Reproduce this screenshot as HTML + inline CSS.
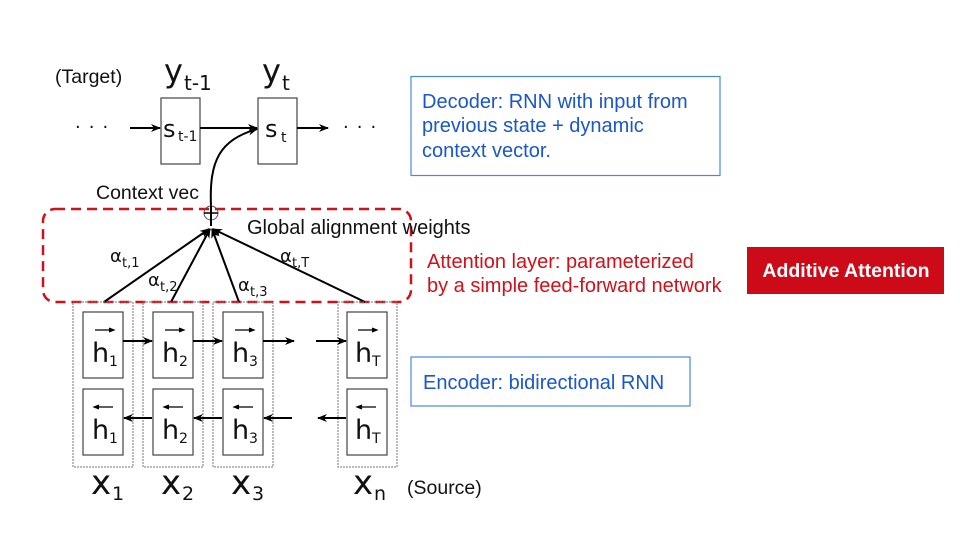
<!DOCTYPE html>
<html><head><meta charset="utf-8"><style>
body{margin:0;background:#fff;}
svg{display:block;font-family:"DejaVu Sans","Liberation Sans",sans-serif;}
.t{font-family:"Liberation Sans",sans-serif;}
</style></head><body>
<svg width="960" height="540" viewBox="0 0 960 540" xmlns="http://www.w3.org/2000/svg">
<defs>
<marker id="a" markerWidth="10" markerHeight="8" refX="9" refY="4" orient="auto" markerUnits="userSpaceOnUse"><path d="M0,0 L10,4 L0,8 L3,4Z" fill="#000"/></marker>
</defs>
<!-- Target -->
<text x="55" y="83" class="t" font-size="19.5" fill="#111">(Target)</text>
<text x="164" y="82" font-size="32" fill="#111">y</text><text x="184" y="90" font-size="20" fill="#111">t-1</text>
<text x="262" y="82" font-size="32" fill="#111">y</text><text x="282" y="90" font-size="20" fill="#111">t</text>
<text x="75" y="133" font-size="18" fill="#111" letter-spacing="8">···</text>
<text x="343" y="133" font-size="18" fill="#111" letter-spacing="8">···</text>
<rect x="161" y="98" width="39" height="66" fill="#fff" stroke="#444" stroke-width="1.2"/>
<rect x="258" y="98" width="39" height="66" fill="#fff" stroke="#444" stroke-width="1.2"/>
<text x="163" y="137" font-size="24" fill="#111">s</text><text x="178" y="141" font-size="14" fill="#111">t-1</text>
<text x="265" y="137" font-size="24" fill="#111">s</text><text x="281" y="142" font-size="14" fill="#111">t</text>
<g stroke="#000" stroke-width="2" fill="none">
<line x1="130" y1="128" x2="160" y2="128" marker-end="url(#a)"/>
<line x1="200" y1="128" x2="257" y2="128" marker-end="url(#a)"/>
<line x1="297" y1="128" x2="328" y2="128" marker-end="url(#a)"/>
<path d="M211,206 C209,160 220,140 257,129" marker-end="url(#a)"/>
</g>
<text x="96" y="199" class="t" font-size="19.5" fill="#111">Context vec</text>
<!-- dashed rect -->
<rect x="43" y="209" width="368" height="93" rx="12" fill="none" stroke="#d0101a" stroke-width="2.5" stroke-dasharray="10,6"/>
<circle cx="211" cy="213" r="7" fill="none" stroke="#555" stroke-width="1"/>
<line x1="204" y1="213" x2="218" y2="213" stroke="#000" stroke-width="1.5"/>
<line x1="211" y1="206" x2="211" y2="226" stroke="#000" stroke-width="2"/>
<text x="247" y="234" class="t" font-size="20" fill="#111">Global alignment weights</text>
<g stroke="#000" stroke-width="2">
<line x1="104" y1="302" x2="209" y2="229" marker-end="url(#a)"/>
<line x1="171" y1="302" x2="210" y2="229" marker-end="url(#a)"/>
<line x1="239" y1="302" x2="212" y2="229" marker-end="url(#a)"/>
<line x1="365" y1="302" x2="213" y2="229" marker-end="url(#a)"/>
</g>
<g font-size="18" fill="#111">
<text x="110" y="262">α</text><text x="122" y="267" font-size="13">t,1</text>
<text x="148" y="286">α</text><text x="160" y="291" font-size="13">t,2</text>
<text x="238" y="291">α</text><text x="250" y="296" font-size="13">t,3</text>
<text x="280" y="262">α</text><text x="292" y="267" font-size="13">t,T</text>
</g>
<!-- encoder columns -->
<g fill="none" stroke="#777" stroke-width="1" stroke-dasharray="2,1">
<rect x="73" y="302" width="60" height="165"/>
<rect x="143" y="302" width="60" height="165"/>
<rect x="213" y="302" width="60" height="165"/>
<rect x="338" y="302" width="59" height="165"/>
</g>
<g fill="#fff" stroke="#444" stroke-width="1.2">
<rect x="83" y="312" width="40" height="66"/><rect x="83" y="389" width="40" height="66"/>
<rect x="153" y="312" width="40" height="66"/><rect x="153" y="389" width="40" height="66"/>
<rect x="223" y="312" width="40" height="66"/><rect x="223" y="389" width="40" height="66"/>
<rect x="347" y="312" width="40" height="66"/><rect x="347" y="389" width="40" height="66"/>
</g>
<g font-size="27" fill="#111">
<text x="92" y="362">h</text><text x="109" y="366" font-size="14">1</text>
<text x="162" y="362">h</text><text x="179" y="366" font-size="14">2</text>
<text x="232" y="362">h</text><text x="249" y="366" font-size="14">3</text>
<text x="355" y="362">h</text><text x="372" y="366" font-size="14">T</text>
<text x="92" y="439">h</text><text x="109" y="443" font-size="14">1</text>
<text x="162" y="439">h</text><text x="179" y="443" font-size="14">2</text>
<text x="232" y="439">h</text><text x="249" y="443" font-size="14">3</text>
<text x="355" y="439">h</text><text x="372" y="443" font-size="14">T</text>
</g>
<g stroke="#000" stroke-width="1.2">
<path d="M95,330 H113 M109,328 L114,330 L109,332"/>
<path d="M165,330 H183 M179,328 L184,330 L179,332"/>
<path d="M235,330 H253 M249,328 L254,330 L249,332"/>
<path d="M358,330 H376 M372,328 L377,330 L372,332"/>
<path d="M95,407 H113 M99,405 L94,407 L99,409"/>
<path d="M165,407 H183 M169,405 L164,407 L169,409"/>
<path d="M235,407 H253 M239,405 L234,407 L239,409"/>
<path d="M358,407 H376 M362,405 L357,407 L362,409"/>
</g>
<g stroke="#000" stroke-width="2">
<line x1="123" y1="341" x2="152" y2="341" marker-end="url(#a)"/>
<line x1="193" y1="341" x2="222" y2="341" marker-end="url(#a)"/>
<line x1="263" y1="341" x2="294" y2="341" marker-end="url(#a)"/>
<line x1="316" y1="341" x2="346" y2="341" marker-end="url(#a)"/>
<line x1="152" y1="418" x2="124" y2="418" marker-end="url(#a)"/>
<line x1="222" y1="418" x2="194" y2="418" marker-end="url(#a)"/>
<line x1="292" y1="418" x2="264" y2="418" marker-end="url(#a)"/>
<line x1="346" y1="418" x2="318" y2="418" marker-end="url(#a)"/>
</g>
<g font-size="34" fill="#111">
<text x="91" y="494">x</text><text x="112" y="500" font-size="19">1</text>
<text x="161" y="494">x</text><text x="182" y="500" font-size="19">2</text>
<text x="231" y="494">x</text><text x="252" y="500" font-size="19">3</text>
<text x="353" y="494">x</text><text x="374" y="500" font-size="19">n</text>
</g>
<text x="407" y="494" class="t" font-size="19.5" fill="#111">(Source)</text>
<!-- right boxes -->
<rect x="411" y="76.5" width="309" height="99" fill="none" stroke="#4a86e8" stroke-width="1.2"/>
<g class="t" font-size="20" fill="#1a56cc">
<text x="422" y="108">Decoder: RNN with input from</text>
<text x="422" y="132">previous state + dynamic</text>
<text x="422" y="157">context vector.</text>
<text x="423" y="389">Encoder: bidirectional RNN</text>
</g>
<rect x="411" y="357" width="279" height="49" fill="none" stroke="#4a86e8" stroke-width="1.2"/>
<g class="t" font-size="20" fill="#d0101a">
<text x="427" y="268">Attention layer: parameterized</text>
<text x="427" y="292">by a simple feed-forward network</text>
</g>
<rect x="747" y="247" width="197" height="47" fill="#cc0a18"/>
<text x="846" y="277" class="t" font-size="19.5" font-weight="bold" fill="#fff" text-anchor="middle">Additive Attention</text>
</svg>
</body></html>
